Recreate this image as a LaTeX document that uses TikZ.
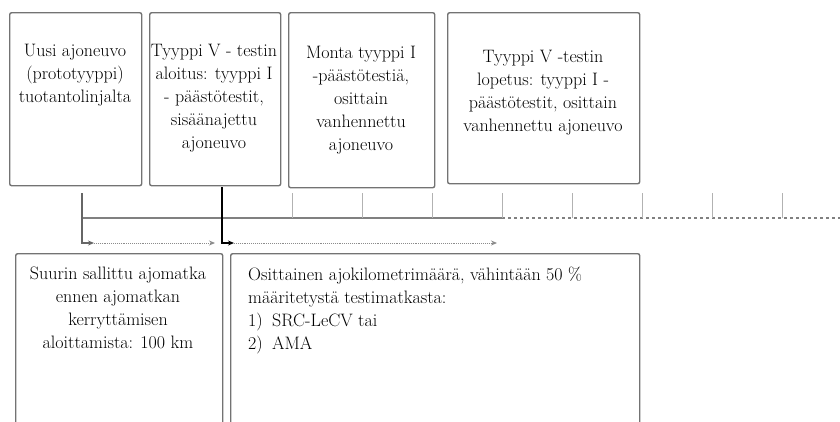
\documentclass[tikz,border=0pt]{standalone}
\usetikzlibrary{arrows.meta, positioning, calc}

\begin{document}
\begin{tikzpicture}[
    x=1pt, y=-1pt,
    % Node styles
    box/.style={
        rectangle, draw=black!55, line width=1.4pt, rounded corners=2pt,
        anchor=north west, inner sep=0pt
    },
    txt/.style={
        anchor=north, align=center, inner sep=0pt,
        font=\fontsize{18}{23}\selectfont
    },
    tick/.style={draw=black!30, line width=0.9pt},
    axis/.style={draw=black!50, line width=1.4pt},
    elbow/.style={-{Stealth[length=6pt,width=5pt]}, black!60, line width=1.2pt},
    span/.style={-{Stealth[length=6pt,width=5pt]}, black!45, line width=0.9pt, densely dotted}
]

\useasboundingbox (0,0) rectangle (840,421);
\clip (0,0) rectangle (840,421);

% ============================================================
% Upper row: stages of the test
% ============================================================

\node[box, minimum width=132pt, minimum height=173pt] at (9,12) (vehicle) {};
\node[box, minimum width=131pt, minimum height=173pt] at (149,12) (start) {};
\node[box, minimum width=146pt, minimum height=175pt] at (288,12) (tests) {};
\node[box, minimum width=192pt, minimum height=171pt] at (447,12) (finish) {};

\node[txt] at (75,44) (vehicletxt) {Uusi ajoneuvo\\(prototyyppi)\\tuotantolinjalta};
\node[txt] at (214,44) (starttxt) {Tyyppi V - testin\\aloitus: tyyppi I\\- päästötestit,\\sisäänajettu\\ajoneuvo};
\node[txt] at (361,46) (teststxt) {Monta tyyppi I\\-päästötestiä,\\osittain\\vanhennettu\\ajoneuvo};
\node[txt] at (543,50) (finishtxt) {Tyyppi V -testin\\lopetus: tyyppi I -\\päästötestit, osittain\\vanhennettu ajoneuvo};

% ============================================================
% Time axis with marks
% ============================================================

\coordinate (axisL) at (82,218);
\coordinate (axisM) at (502,218);
\coordinate (axisR) at (840,218);

\draw[axis] (axisL) -- (axisM);
\draw[axis, dashed] (axisM) -- (axisR);

\foreach \i in {1,...,8}
    \draw[tick] (222+70*\i,193) -- (222+70*\i,218);

% -- mileage spans --
\coordinate (t0) at (82,193);
\coordinate (e0) at (94,243);
\coordinate (m1) at (215,243);
\coordinate (s1) at (222,187);
\coordinate (e1) at (234,243);
\coordinate (m2) at (497,243);

\draw[elbow] (t0) |- (e0);
\draw[span] (e0) -- (m1);
\draw[elbow, black, line width=2pt] (s1) |- (e1);
\draw[span] (e1) -- (m2);

% ============================================================
% Lower row: distances
% ============================================================

\node[box, minimum width=207pt, minimum height=200pt] at (15,253) (limit) {};
\node[box, minimum width=409pt, minimum height=200pt] at (230,253) (mileage) {};

\node[txt] at (118,267) (limittxt) {Suurin sallittu ajomatka\\ennen ajomatkan\\kerryttämisen\\aloittamista: 100 km};
\node[txt, anchor=north west, align=left] at (248,267) (mileagetxt) {Osittainen ajokilometrimäärä, vähintään 50 \%\\määritetystä testimatkasta:\\\makebox[24pt][l]{1)}SRC-LeCV tai\\\makebox[24pt][l]{2)}AMA};

\end{tikzpicture}
\end{document}
